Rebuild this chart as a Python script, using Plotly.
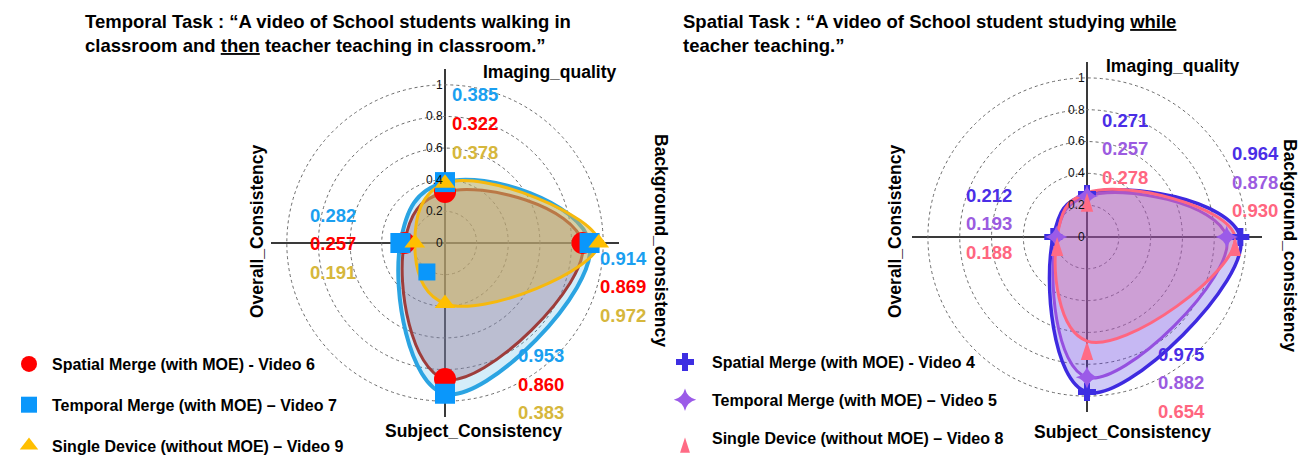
import plotly.graph_objects as go

W, H = 1307, 457

# ---------------- data ----------------
dims = ["Imaging_quality", "Background_consistency", "Subject_Consistency", "Overall_Consistency"]
dim_angles = [90, 0, 270, 180]

radial_ticks = [0, 0.2, 0.4, 0.6, 0.8, 1]
radial_tick_labels = ["0", "0.2", "0.4", "0.6", "0.8", "1"]

# Temporal task (left chart)
temporal_names = ["Spatial Merge (with MOE) - Video 6",
                  "Temporal Merge (with MOE) \u2013 Video 7",
                  "Single Device (without MOE) \u2013 Video 9"]
temporal_spatial_merge = [0.322, 0.869, 0.860, 0.257]
temporal_temporal_merge = [0.385, 0.914, 0.953, 0.282]
temporal_single_device = [0.378, 0.972, 0.383, 0.191]
# stray square marker visible in the original figure
stray_r = [0.216]
stray_theta = [238]

# Spatial task (right chart)
spatial_names = ["Spatial Merge (with MOE) - Video 4",
                 "Temporal Merge (with MOE) \u2013 Video 5",
                 "Single Device (without MOE) \u2013 Video 8"]
spatial_spatial_merge = [0.271, 0.964, 0.975, 0.212]
spatial_temporal_merge = [0.257, 0.878, 0.882, 0.193]
spatial_single_device = [0.278, 0.930, 0.654, 0.188]

FONT = "Liberation Sans, Arial, sans-serif"

fig = go.Figure()


def closed(vals):
    return list(vals) + [vals[0]]


def add_series(sub, legend, vals, name, line_color, line_width, fill_color,
               marker_symbol, marker_color, marker_size, group):
    fig.add_trace(go.Scatterpolar(
        r=closed(vals), theta=closed(dim_angles), subplot=sub,
        mode="lines", fill="toself", fillcolor=fill_color,
        line=dict(color=line_color, width=line_width, shape="spline", smoothing=1.3),
        showlegend=False, hoverinfo="skip"))
    return dict(r=vals, theta=dim_angles, subplot=sub, name="<b>%s</b>" % name, legend=legend,
                legendgroup=group, mode="markers",
                marker=dict(symbol=marker_symbol, color=marker_color, size=marker_size,
                            line=dict(width=0)))


markers = []
# left chart: back to front
markers.append(add_series("polar", "legend", temporal_temporal_merge, temporal_names[1],
                          "#2ba4e2", 4, "rgba(41,163,227,0.2)", "square", "#0a97fb", 20, "l2"))
markers.append(add_series("polar", "legend", temporal_spatial_merge, temporal_names[0],
                          "#9e3d3b", 3, "rgba(150,120,150,0.4)", "circle", "#ff0000", 22, "l1"))
markers.append(add_series("polar", "legend", temporal_single_device, temporal_names[2],
                          "#f6b90e", 3, "rgba(213,180,81,0.5)", "triangle-up", "#ffbf00", 18, "l3"))
# right chart
markers.append(add_series("polar2", "legend2", spatial_spatial_merge, spatial_names[0],
                          "#3e2ae0", 3.5, "rgba(62,42,224,0.25)", "cross", "#3d2ee2", 15, "r1"))
markers.append(add_series("polar2", "legend2", spatial_temporal_merge, spatial_names[1],
                          "#9550e0", 3, "rgba(149,80,224,0.15)", "star-diamond", "#9b5be8", 16, "r2"))
markers.append(add_series("polar2", "legend2", spatial_single_device, spatial_names[2],
                          "#ff6680", 3, "rgba(221,104,147,0.3)", "arrow", "#ff6b85", 20, "r3"))

order = [1, 0, 2, 3, 4, 5]
for i in order:
    fig.add_trace(go.Scatterpolar(**markers[i], showlegend=True, hoverinfo="skip"))

fig.add_trace(go.Scatterpolar(r=stray_r, theta=stray_theta, subplot="polar", mode="markers",
                              marker=dict(symbol="square", color="#0a97fb", size=17),
                              showlegend=False, hoverinfo="skip"))


def px(x, y):
    return x / W, 1 - y / H


def polar_layout(cx, cy, rad):
    x0, y0 = px(cx - rad, cy + rad)
    x1, y1 = px(cx + rad, cy - rad)
    return dict(
        domain=dict(x=[x0, x1], y=[y0, y1]),
        bgcolor="rgba(0,0,0,0)",
        radialaxis=dict(range=[0, 1.1], tickvals=radial_ticks, ticktext=radial_tick_labels,
                        showline=False, ticks="", angle=90, tickangle=90,
                        side="counterclockwise",
                        gridcolor="#6a6a6a", gridwidth=1, griddash="dot",
                        tickfont=dict(size=12, color="#111", family=FONT)),
        angularaxis=dict(thetaunit="degrees", rotation=0, direction="counterclockwise",
                         tickvals=dim_angles, showticklabels=False, ticks="",
                         showline=False, showgrid=True, gridcolor="#3a3a3a", gridwidth=1.5),
    )


annotations = []


def text(x, y, s, size=17.5, color="black", angle=0, xanchor="center", yanchor="middle"):
    xp, yp = px(x, y)
    annotations.append(dict(x=xp, y=yp, xref="paper", yref="paper", text=s,
                            showarrow=False, textangle=angle, xanchor=xanchor, align="left",
                            yanchor=yanchor, font=dict(size=size, color=color, family=FONT)))


# titles
text(83, 34, "<b>Temporal Task : \u201cA video of School students walking in</b><br>"
             "<b>classroom and <u>then</u> teacher teaching in classroom.\u201d</b>",
     size=18.5, xanchor="left")
text(681, 34, "<b>Spatial Task : \u201cA video of School student studying <u>while</u></b><br>"
              "<b>teacher teaching.\u201d</b>", size=18.5, xanchor="left")

# axis labels, left chart
text(549, 72, "<b>Imaging_quality</b>")
text(661, 240, "<b>Background_consistency</b>", angle=90)
text(473, 431, "<b>Subject_Consistency</b>")
text(257, 232, "<b>Overall_Consistency</b>", angle=-90)
# axis labels, right chart
text(1172, 66, "<b>Imaging_quality</b>")
text(1290, 245, "<b>Background_consistency</b>", angle=90)
text(1122, 432, "<b>Subject_Consistency</b>")
text(895, 232, "<b>Overall_Consistency</b>", angle=-90)

# value labels
ROW = 28.5
left_series = [(temporal_temporal_merge, "#1a9ff0"), (temporal_spatial_merge, "#ff0000"),
               (temporal_single_device, "#d6b73c")]
left_pos = [(450, 95), (598, 258), (516, 355.5), (308, 215)]  # per dimension, first row
for k, (vals, col) in enumerate(left_series):
    for d, (x, y) in enumerate(left_pos):
        text(x, y + ROW * k, "<b>%.3f</b>" % vals[d], size=18.5, color=col, xanchor="left")

right_series = [(spatial_spatial_merge, "#4a2ee6"), (spatial_temporal_merge, "#9b5be0"),
                (spatial_single_device, "#ff6680")]
right_pos = [(1100, 120.5), (1230, 153.5), (1156, 354), (964, 195.5)]
for k, (vals, col) in enumerate(right_series):
    for d, (x, y) in enumerate(right_pos):
        text(x, y + ROW * k, "<b>%.3f</b>" % vals[d], size=18.5, color=col, xanchor="left")

lx, ly = px(6, 463)
rx, ry = px(658, 455)
fig.update_layout(
    width=W, height=H, margin=dict(l=0, r=0, t=0, b=0, autoexpand=False),
    paper_bgcolor="white", plot_bgcolor="white",
    polar=polar_layout(445, 243, 174),
    polar2=polar_layout(1087, 237, 175),
    annotations=annotations,
    legend=dict(x=lx, y=ly, xanchor="left", yanchor="bottom", traceorder="grouped",
                tracegroupgap=17, bgcolor="rgba(0,0,0,0)", itemwidth=36,
                font=dict(size=16, color="black", family=FONT)),
    legend2=dict(x=rx, y=ry, xanchor="left", yanchor="bottom", traceorder="grouped",
                 tracegroupgap=14, bgcolor="rgba(0,0,0,0)", itemwidth=44,
                 font=dict(size=16, color="black", family=FONT)),
    font=dict(family=FONT),
)

fig.write_html("out.html", config={"displayModeBar": False},
               post_script="document.body.style.margin='0';")
